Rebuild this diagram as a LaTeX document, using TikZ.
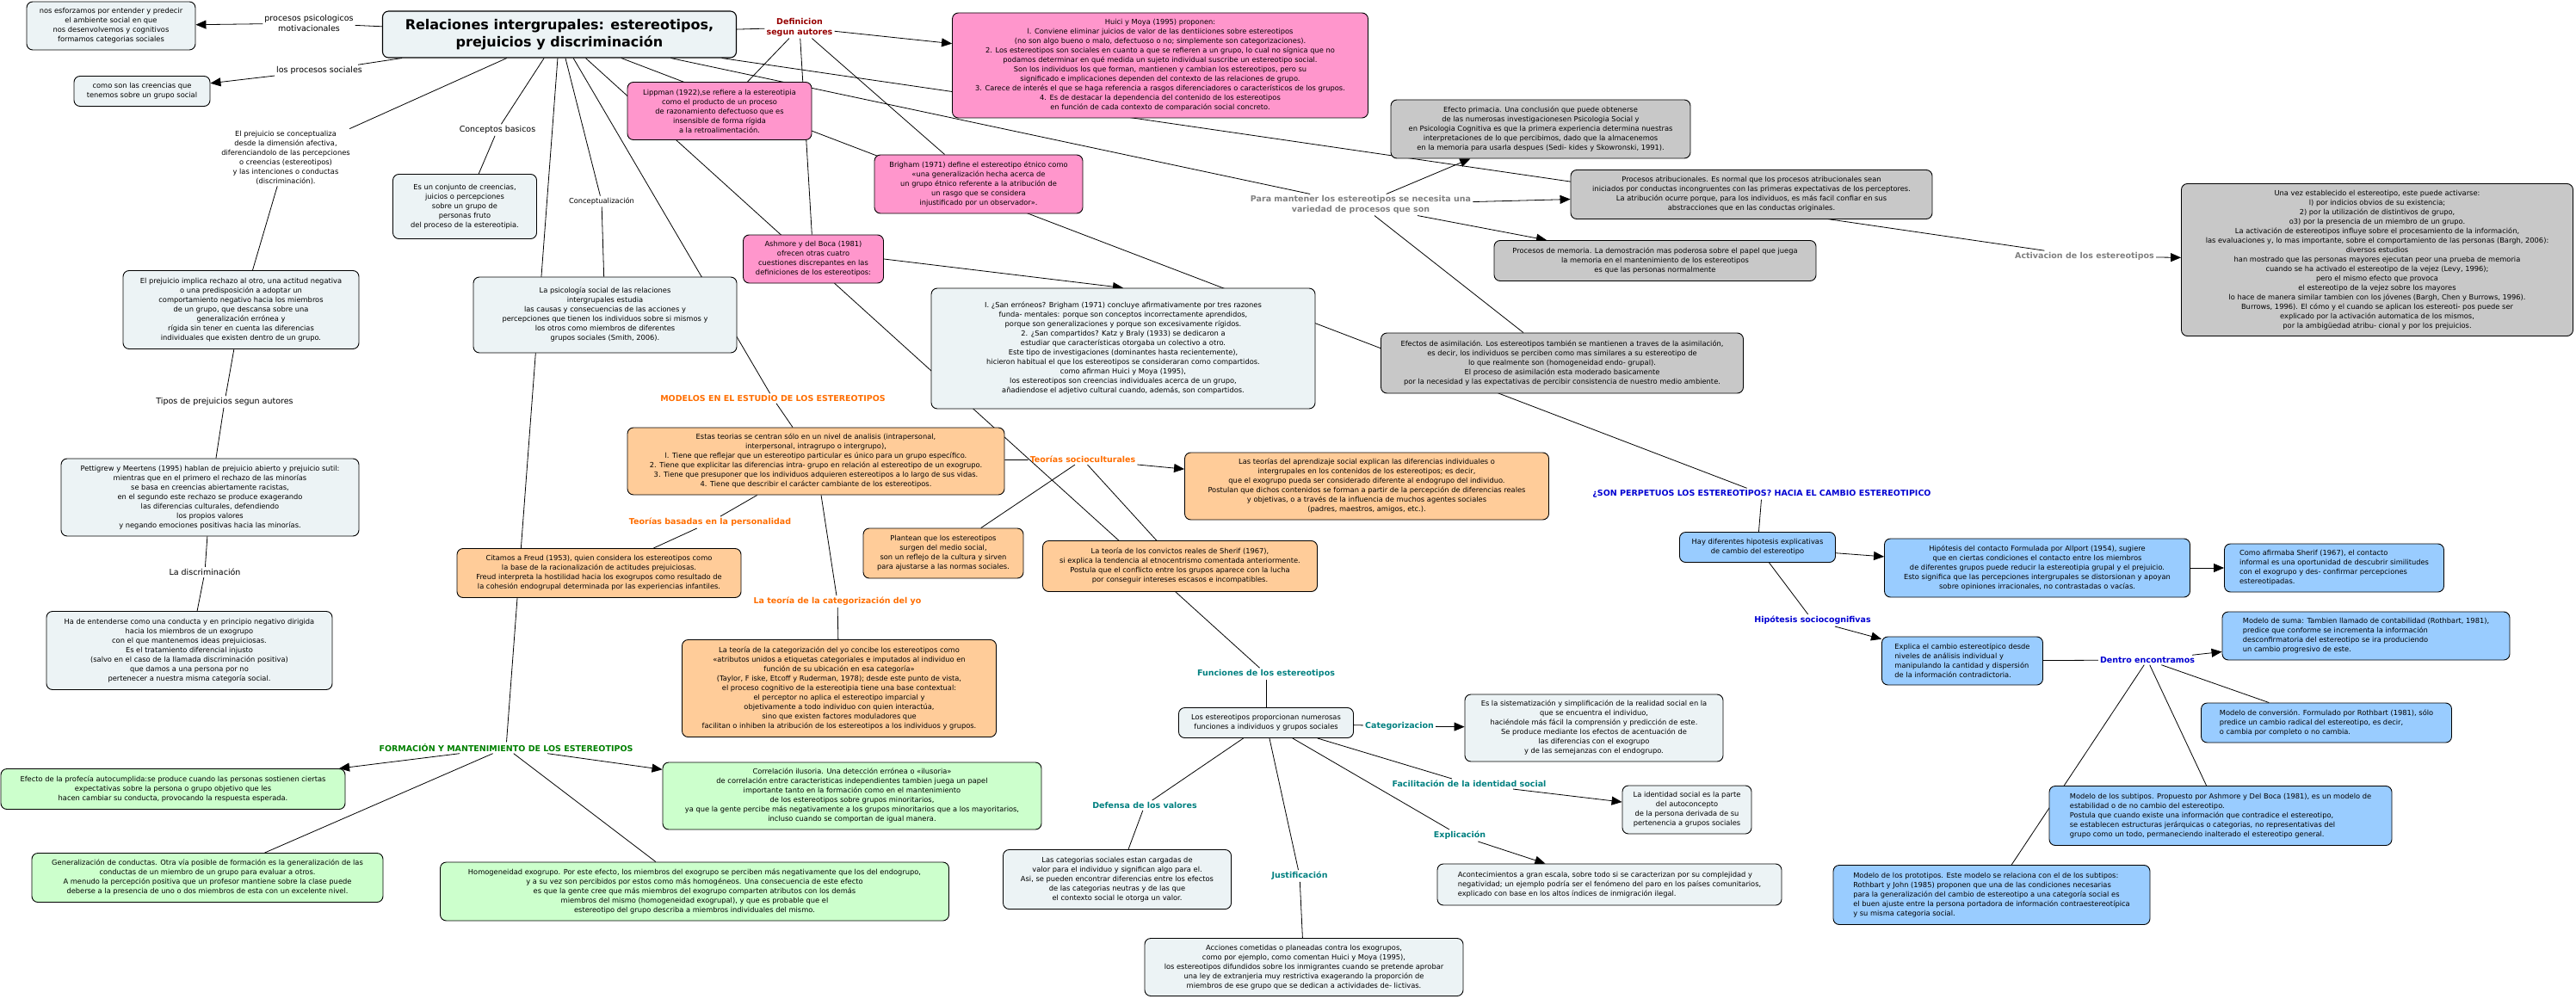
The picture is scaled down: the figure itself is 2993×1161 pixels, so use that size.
\documentclass[tikz,border=0pt]{standalone}
\usepackage{fontspec}
\setsansfont{DejaVu Sans}
\usetikzlibrary{arrows.meta, backgrounds}

\definecolor{basefill}{RGB}{236,243,245}
\definecolor{pinkfill}{RGB}{255,150,204}
\definecolor{grayfill}{RGB}{200,200,200}
\definecolor{orangefill}{RGB}{255,204,153}
\definecolor{greenfill}{RGB}{204,255,204}
\definecolor{bluefill}{RGB}{153,204,255}
\definecolor{defred}{RGB}{150,0,0}
\definecolor{procgray}{RGB}{128,128,128}
\definecolor{modorange}{RGB}{255,110,0}
\definecolor{formgreen}{RGB}{0,128,0}
\definecolor{funteal}{RGB}{0,128,128}
\definecolor{cambioblue}{RGB}{0,0,210}

\begin{document}
\begin{tikzpicture}[
    x=1pt, y=-1pt,
    >={Triangle[length=12pt, width=10pt]},
    font=\sffamily,
    wh/.style 2 args ={minimum width=#1pt, minimum height=#2pt},
    concept/.style   ={draw, rounded corners=7pt, line width=0.9pt, align=center,
                       inner sep=3pt, font=\sffamily\fontsize{8.3}{11}\selectfont},
    basebox/.style   ={concept, fill=basefill},
    titlebox/.style  ={concept, fill=basefill, line width=1.1pt,
                       font=\sffamily\bfseries\fontsize{16}{20}\selectfont},
    pinkbox/.style   ={concept, fill=pinkfill},
    graybox/.style   ={concept, fill=grayfill},
    orangebox/.style ={concept, fill=orangefill},
    greenbox/.style  ={concept, fill=greenfill},
    bluebox/.style   ={concept, fill=bluefill},
    phrase/.style    ={inner sep=2pt, align=center,
                       font=\sffamily\fontsize{9.5}{11.5}\selectfont},
    smallphrase/.style={phrase, font=\sffamily\fontsize{8.3}{11}\selectfont},
    heading/.style   ={inner sep=2pt, align=center,
                       font=\sffamily\bfseries\fontsize{9.5}{11.5}\selectfont},
    link/.style      ={line width=0.8pt},
    linkto/.style    ={link, ->}
]
\useasboundingbox (0,0) rectangle (2993,1161);

% =================== Central concept ===================
\node[titlebox, wh={411}{54}] (titulo) at (650,40)
    {Relaciones intergrupales: estereotipos,\\prejuicios y discriminación};

% =================== Left column: prejuicio / discriminacion ===================
\node[phrase] (psicologicos) at (359,27) {procesos psicologicos\\motivacionales};
\node[basebox, wh={196}{56}] (esforzamos) at (129,30)
    {nos esforzamos por entender y predecir\\el ambiente social en que\\nos desenvolvemos y cognitivos\\formamos categorias sociales};
\node[phrase] (sociales) at (371,82) {los procesos sociales};
\node[basebox, wh={158}{35}] (creencias) at (165,106)
    {como son las creencias que\\tenemos sobre un grupo social};
\node[smallphrase] (conceptualiza) at (332,183)
    {El prejuicio se conceptualiza\\desde la dimensión afectiva,\\diferenciandolo de las percepciones\\o creencias (estereotipos)\\y las intenciones o conductas\\(discriminación).};
\node[basebox, wh={274}{91}] (rechazo) at (280,360)
    {El prejuicio implica rechazo al otro, una actitud negativa\\o una predisposición a adoptar un\\comportamiento negativo hacia los miembros\\de un grupo, que descansa sobre una\\generalización errónea y\\rígida sin tener en cuenta las diferencias\\individuales que existen dentro de un grupo.};
\node[phrase] (tipos) at (261,467) {Tipos de prejuicios segun autores};
\node[basebox, wh={346}{90}] (pettigrew) at (244,578)
    {Pettigrew y Meertens (1995) hablan de prejuicio abierto y prejuicio sutil:\\mientras que en el primero el rechazo de las minorías\\se basa en creencias abiertamente racistas,\\en el segundo este rechazo se produce exagerando\\las diferencias culturales, defendiendo\\los propios valores\\y negando emociones positivas hacia las minorías.};
\node[phrase] (discrimina) at (238,665) {La discriminación};
\node[basebox, wh={332}{91}] (conducta) at (220,756)
    {Ha de entenderse como una conducta y en principio negativo dirigida\\hacia los miembros de un exogrupo\\con el que mantenemos ideas prejuiciosas.\\Es el tratamiento diferencial injusto\\(salvo en el caso de la llamada discriminación positiva)\\que damos a una persona por no\\pertenecer a nuestra misma categoría social.};

% =================== Conceptos basicos ===================
\node[phrase] (basicos) at (578,151) {Conceptos basicos};
\node[basebox, wh={167}{75}] (conjunto) at (540,240)
    {Es un conjunto de creencias,\\juicios o percepciones\\sobre un grupo de\\personas fruto\\del proceso de la estereotipia.};
\node[smallphrase] (conceptualizacion) at (699,234) {Conceptualización};
\node[basebox, wh={306}{88}] (psicosocial) at (703,366)
    {La psicología social de las relaciones\\intergrupales estudia\\las causas y consecuencias de las acciones y\\percepciones que tienen los individuos sobre si mismos y\\los otros como miembros de diferentes\\grupos sociales (Smith, 2006).};

% =================== Definicion segun autores (pink) ===================
\node[heading, text=defred] (definicion) at (929,32) {Definicion\\segun autores};
\node[pinkbox, wh={214}{67}] (lippman) at (836,129)
    {Lippman (1922),se refiere a la estereotipia\\como el producto de un proceso\\de razonamiento defectuoso que es\\insensible de forma rígida\\a la retroalimentación.};
\node[pinkbox, wh={483}{122}] (huici) at (1348,76)
    {Huici y Moya (1995) proponen:\\l. Conviene eliminar juicios de valor de las dentiiciones sobre estereotipos\\(no son algo bueno o malo, defectuoso o no; simplemente son categorizaciones).\\2. Los estereotipos son sociales en cuanto a que se refieren a un grupo, lo cual no sígnica que no\\podamos determinar en qué medida un sujeto individual suscribe un estereotipo social.\\Son los individuos los que forman, mantienen y cambian los estereotipos, pero su\\significado e implicaciones dependen del contexto de las relaciones de grupo.\\3. Carece de interés el que se haga referencia a rasgos diferenciadores o característicos de los grupos.\\4. Es de destacar la dependencia del contenido de los estereotipos\\en función de cada contexto de comparación social concreto.};
\node[pinkbox, wh={242}{68}] (brigham) at (1137,214)
    {Brigham (1971) define el estereotipo étnico como\\«una generalización hecha acerca de\\un grupo étnico referente a la atribución de\\un rasgo que se considera\\injustificado por un observador».};
\node[pinkbox, wh={163}{56}] (ashmore) at (945,301)
    {Ashmore y del Boca (1981)\\ofrecen otras cuatro\\cuestiones discrepantes en las\\definiciones de los estereotipos:};
\node[basebox, wh={446}{140}] (erroneos) at (1305,405)
    {I. ¿San erróneos? Brigham (1971) concluye afirmativamente por tres razones\\funda- mentales: porque son conceptos incorrectamente aprendidos,\\porque son generalizaciones y porque son excesivamente rígidos.\\2. ¿San compartidos? Katz y Braly (1933) se dedicaron a\\estudiar que características otorgaba un colectivo a otro.\\Este tipo de investigaciones (dominantes hasta recientemente),\\hicieron habitual el que los estereotipos se consideraran como compartidos.\\como afirman Huici y Moya (1995),\\los estereotipos son creencias individuales acerca de un grupo,\\añadiendose el adjetivo cultural cuando, además, son compartidos.};

% =================== Mantenimiento (gray) ===================
\node[heading, text=procgray] (mantener) at (1581,238)
    {Para mantener los estereotipos se necesita una\\variedad de procesos que son};
\node[graybox, wh={348}{68}] (primacia) at (1790,150)
    {Efecto primacia. Una conclusión que puede obtenerse\\de las numerosas investigacionesen Psicologia Social y\\en Psicologia Cognitiva es que la primera experiencia determina nuestras\\interpretaciones de lo que percibimos, dado que la almacenemos\\en la memoria para usarla despues (Sedi- kides y Skowronski, 1991).};
\node[graybox, wh={420}{57}] (atribucion) at (2035,226)
    {Procesos atribucionales. Es normal que los procesos atribucionales sean\\iniciados por conductas incongruentes con las primeras expectativas de los perceptores.\\La atribución ocurre porque, para los individuos, es más facil confiar en sus\\abstracciones que en las conductas originales.};
\node[graybox, wh={374}{47}] (memoria) at (1923,303)
    {Procesos de memoria. La demostración mas poderosa sobre el papel que juega\\la memoria en el mantenimiento de los estereotipos\\es que las personas normalmente};
\node[graybox, wh={421}{70}] (asimilacion) at (1815,422)
    {Efectos de asimilación. Los estereotipos también se mantienen a traves de la asimilación,\\es decir, los individuos se perciben como mas similares a su estereotipo de\\lo que realmente son (homogeneidad endo- grupal).\\El proceso de asimilación esta moderado basicamente\\por la necesidad y las expectativas de percibir consistencia de nuestro medio ambiente.};
\node[heading, text=procgray] (activar) at (2422,298) {Activacion de los estereotipos};
\node[graybox, wh={455}{177}] (activacion) at (2762,302)
    {Una vez establecido el estereotipo, este puede activarse:\\l) por indicios obvios de su existencia;\\2) por la utilización de distintivos de grupo,\\o3) por la presencia de un miembro de un grupo.\\La activación de estereotipos influye sobre el procesamiento de la información,\\las evaluaciones y, lo mas importante, sobre el comportamiento de las personas (Bargh, 2006):\\diversos estudios\\han mostrado que las personas mayores ejecutan peor una prueba de memoria\\cuando se ha activado el estereotipo de la vejez (Levy, 1996);\\pero el mismo efecto que provoca\\el estereotipo de la vejez sobre los mayores\\lo hace de manera similar tambien con los jóvenes (Bargh, Chen y Burrows, 1996).\\Burrows, 1996). El cómo y el cuando se aplican los estereoti- pos puede ser\\explicado por la activación automatica de los mismos,\\por la ambigüedad atribu- cional y por los prejuicios.};

% =================== Modelos (orange) ===================
\node[heading, text=modorange] (modelos) at (898,463) {MODELOS EN EL ESTUDIO DE LOS ESTEREOTIPOS};
\node[orangebox, wh={438}{78}] (estasteorias) at (948,536)
    {Estas teorias se centran sólo en un nivel de analisis (intrapersonal,\\interpersonal, intragrupo o intergrupo),\\l. Tiene que reflejar que un estereotipo particular es único para un grupo específico.\\2. Tiene que explicitar las diferencias intra- grupo en relación al estereotipo de un exogrupo.\\3. Tiene que presuponer que los individuos adquieren estereotipos a lo largo de sus vidas.\\4. Tiene que describir el carácter cambiante de los estereotipos.};
\node[heading, text=modorange] (sociocult) at (1258,534) {Teorías socioculturales};
\node[orangebox, wh={423}{78}] (aprendizaje) at (1588,565)
    {Las teorías del aprendizaje social explican las diferencias individuales o\\intergrupales en los contenidos de los estereotipos; es decir,\\que el exogrupo pueda ser considerado diferente al endogrupo del individuo.\\Postulan que dichos contenidos se forman a partir  de la percepción de diferencias reales\\y objetivas, o a través de la influencia de muchos agentes sociales\\(padres, maestros, amigos, etc.).};
\node[orangebox, wh={186}{58}] (plantean) at (1096,643)
    {Plantean que los estereotipos\\surgen del medio social,\\son un reflejo de la cultura y sirven\\para ajustarse a las normas sociales.};
\node[orangebox, wh={319}{59}] (convictos) at (1371,658)
    {La teoría de los convictos reales de Sherif (1967),\\si explica la tendencia al etnocentrismo comentada anteriormente.\\Postula que el conflicto entre los grupos aparece con la lucha\\por conseguir intereses escasos e incompatibles.};
\node[heading, text=modorange] (personalidad) at (825,607) {Teorías basadas en la personalidad};
\node[orangebox, wh={330}{57}] (freud) at (696,666)
    {Citamos a Freud (1953), quien considera los estereotipos como\\la base de la racionalización de actitudes prejuiciosas.\\Freud interpreta la hostilidad hacia los exogrupos como resultado de\\la cohesión endogrupal determinada por las experiencias infantiles.};
\node[heading, text=modorange] (categyo) at (973,699) {La teoría de la categorización del yo};
\node[orangebox, wh={365}{113}] (yo) at (975,800)
    {La teoría de la categorización del yo concibe los estereotipos como\\«atributos unidos a etiquetas categoriales e imputados al individuo en\\función de su ubicación en esa categoría»\\(Taylor, F iske, Etcoff y Ruderman, 1978); desde este punto de vista,\\el proceso cognitivo de la estereotipia tiene una base contextual:\\el perceptor no aplica el estereotipo imparcial y\\objetivamente a todo individuo con quien interactúa,\\sino que existen factores moduladores que\\facilitan o inhiben la atribución de los estereotipos a los individuos y grupos.};

% =================== Formacion y mantenimiento (green) ===================
\node[heading, text=formgreen] (formacion) at (588,869) {FORMACIÓN Y MANTENIMIENTO DE LOS ESTEREOTIPOS};
\node[greenbox, wh={400}{47}] (profecia) at (201,917)
    {Efecto de la profecía autocumplida:se produce cuando las personas sostienen ciertas\\expectativas sobre la persona o grupo objetivo que les\\hacen cambiar su conducta, provocando la respuesta esperada.};
\node[greenbox, wh={440}{78}] (correlacion) at (990,925)
    {Correlación ilusoria. Una detección errónea o «ilusoria»\\de correlación entre caracteristicas independientes tambien juega un papel\\importante tanto en la formación como en el mantenimiento\\de los estereotipos sobre grupos minoritarios,\\ya que la gente percibe más negativamente a los grupos minoritarios que a los mayoritarios,\\incluso cuando se comportan de igual manera.};
\node[greenbox, wh={408}{57}] (generaliza) at (241,1020)
    {Generalización de conductas. Otra vía posible de formación es la generalización de las\\conductas de un miembro de un grupo para evaluar a otros.\\A menudo la percepción positiva que un profesor mantiene sobre la clase puede\\deberse a la presencia de uno o dos miembros de esta con un excelente nivel.};
\node[greenbox, wh={591}{68}] (homogeneidad) at (807,1036)
    {Homogeneidad exogrupo. Por este efecto, los miembros del exogrupo se perciben más negativamente que los del endogrupo,\\y a su vez son percibidos por estos como más homogéneos. Una consecuencia de este efecto\\es que la gente cree que más miembros del exogrupo comparten atributos con los demás\\miembros del mismo (homogeneidad exogrupal), y que es probable que el\\estereotipo del grupo describa a miembros individuales del mismo.};

% =================== Funciones (teal) ===================
\node[heading, text=funteal] (funciones) at (1471,783) {Funciones de los estereotipos};
\node[basebox, wh={203}{35}] (proporcionan) at (1471,840)
    {Los estereotipos proporcionan numerosas\\funciones a individuos y grupos sociales};
\node[heading, text=funteal] (categorizar) at (1626,844) {Categorizacion};
\node[basebox, wh={300}{78}] (sistematiza) at (1852,846)
    {Es la sistematización y simplificación de la realidad social en la\\que se encuentra el individuo,\\haciéndole más fácil la comprensión y predicción de este.\\Se produce mediante los efectos de acentuación de\\las diferencias con el exogrupo\\y de las semejanzas con el endogrupo.};
\node[heading, text=funteal] (facilita) at (1707,911) {Facilitación de la identidad social};
\node[basebox, wh={150}{56}] (identidad) at (1960,941)
    {La identidad social es la parte\\del autoconcepto\\de la persona derivada de su\\pertenencia a grupos sociales};
\node[heading, text=funteal] (explicacion) at (1696,971) {Explicación};
\node[basebox, wh={400}{48}, align=left] (aconteci) at (1870,1028)
    {Acontecimientos a gran escala, sobre todo si se caracterizan por su complejidad y\\negatividad; un ejemplo podría ser el fenómeno del paro en los países comunitarios,\\ explicado con base en los altos índices de inmigración ilegal.};
\node[heading, text=funteal] (defensa) at (1330,936) {Defensa de los valores};
\node[basebox, wh={265}{69}] (cargadas) at (1298,1022)
    {Las categorias sociales estan cargadas de\\valor para el individuo y significan algo para el.\\Asi, se pueden encontrar diferencias entre los efectos\\de las categorias neutras y de las que\\el contexto social le otorga un valor.};
\node[heading, text=funteal] (justifica) at (1510,1018) {Justificación};
\node[basebox, wh={370}{67}] (acciones) at (1515,1124)
    {Acciones cometidas o planeadas contra los exogrupos,\\como por ejemplo, como comentan Huici y Moya (1995),\\los estereotipos difundidos sobre los inmigrantes cuando se pretende aprobar\\una ley de extranjeria muy restrictiva exagerando la proporción de\\miembros de ese grupo que se dedican a actividades de- lictivas.};

% =================== Cambio estereotipico (blue) ===================
\node[heading, text=cambioblue] (perpetuos) at (2047,574)
    {¿SON PERPETUOS LOS ESTEREOTIPOS? HACIA EL CAMBIO ESTEREOTIPICO};
\node[bluebox, wh={181}{35}] (hipotesis) at (2042,636)
    {Hay diferentes hipotesis explicativas\\de cambio del estereotipo};
\node[bluebox, wh={355}{68}] (contacto) at (2367,660)
    {Hipótesis del contacto Formulada por Allport (1954), sugiere\\que en ciertas condiciones el contacto entre los miembros\\de diferentes grupos puede reducir la estereotipia grupal y el prejuicio.\\Esto significa que las percepciones intergrupales se distorsionan y apoyan\\sobre opiniones irracionales, no contrastadas o vacías.};
\node[bluebox, wh={255}{56}, align=left] (sherif) at (2712,660)
    {Como afirmaba Sherif (1967), el contacto\\informal es una oportunidad de descubrir similitudes\\ con el exogrupo y des- confirmar percepciones\\estereotipadas.};
\node[heading, text=cambioblue] (sociocog) at (2106,721) {Hipótesis sociocognifivas};
\node[bluebox, wh={187}{56}, align=left] (explica) at (2280,768)
    {Explica el cambio estereotípico desde\\niveles de análisis individual y\\manipulando la cantidad y dispersión\\de la información contradictoria.};
\node[heading, text=cambioblue] (dentro) at (2495,767) {Dentro encontramos};
\node[bluebox, wh={334}{56}, align=left] (suma) at (2749,739)
    {Modelo de suma: Tambien llamado de contabilidad (Rothbart, 1981),\\predice que conforme se incrementa la información\\ desconfirmatoria del estereotipo se ira produciendo\\un cambio progresivo de este.};
\node[bluebox, wh={291}{46}, align=left] (conversion) at (2703,840)
    {Modelo de conversión. Formulado por Rothbart (1981), sólo\\predice un cambio radical del estereotipo, es decir,\\o cambia por completo o no cambia.};
\node[bluebox, wh={398}{69}, align=left] (subtipos) at (2580,948)
    {Modelo de los subtipos. Propuesto por Ashmore y Del Boca (1981), es un modelo de\\ estabilidad o de no cambio del estereotipo.\\ Postula que cuando existe una información que contradice el estereotipo,\\se establecen estructuras jerárquicas o categorias, no representativas del\\grupo como un todo, permaneciendo inalterado el estereotipo general.};
\node[bluebox, wh={368}{69}, align=left] (prototipos) at (2314,1040)
    {Modelo de los prototipos. Este modelo se relaciona con el de los subtipos:\\ Rothbart y John (1985) proponen que una de las condiciones necesarias\\para la generalización del cambio de estereotipo a una categoría social es\\el buen ajuste entre la persona portadora de información contraestereotípica\\y su misma categoria social.};

% --- Connectors (behind the boxes) ---
\begin{scope}[on background layer]
\fill[white] (0,0) rectangle (2993,1161);

% from the central concept
\draw[link] (titulo) -- (psicologicos);
\draw[link] (titulo) -- (sociales);
\draw[link] (titulo) -- (conceptualiza);
\draw[link] (titulo) -- (basicos);
\draw[link] (titulo) -- (conceptualizacion);
\draw[link] (titulo) -- (formacion);
\draw[link] (titulo) -- (modelos);
\draw[link] (titulo) -- (funciones);
\draw[link] (titulo) -- (perpetuos);
\draw[link] (titulo) -- (mantener);
\draw[link] (titulo) -- (activar);
\draw[link] (titulo) -- (definicion);

% left column
\draw[linkto] (psicologicos) -- (esforzamos);
\draw[linkto] (sociales) -- (creencias);
\draw[link] (conceptualiza) -- (rechazo);
\draw[link] (rechazo) -- (tipos);
\draw[link] (tipos) -- (pettigrew);
\draw[link] (pettigrew) -- (discrimina);
\draw[link] (discrimina) -- (conducta);
\draw[link] (basicos) -- (conjunto);
\draw[link] (conceptualizacion) -- (psicosocial);

% definiciones
\draw[linkto] (definicion) -- (huici);
\draw[link] (definicion) -- (lippman);
\draw[link] (definicion) -- (ashmore);
\draw[link] (definicion) -- (brigham);
\draw[linkto] (ashmore.east) -- (erroneos.north);

% mantenimiento
\draw[linkto] (mantener) -- (primacia);
\draw[linkto] (mantener) -- (atribucion);
\draw[linkto] (mantener) -- (memoria);
\draw[link] (mantener) -- (asimilacion);
\draw[linkto] (activar) -- (activacion);

% modelos
\draw[link] (modelos) -- (estasteorias);
\draw[link] (estasteorias) -- (sociocult);
\draw[linkto] (sociocult) -- (aprendizaje);
\draw[link] (sociocult) -- (plantean);
\draw[link] (sociocult) -- (convictos);
\draw[link] (estasteorias) -- (personalidad);
\draw[link] (personalidad) -- (freud);
\draw[link] (estasteorias) -- (categyo);
\draw[link] (categyo) -- (yo);

% formacion
\draw[linkto] (formacion) -- (profecia);
\draw[link] (formacion) -- (generaliza);
\draw[link] (formacion) -- (homogeneidad);
\draw[linkto] (formacion) -- (correlacion);

% funciones
\draw[link] (funciones) -- (proporcionan);
\draw[link] (proporcionan) -- (categorizar);
\draw[linkto] (categorizar) -- (sistematiza);
\draw[link] (proporcionan) -- (facilita);
\draw[linkto] (facilita) -- (identidad);
\draw[link] (proporcionan) -- (explicacion);
\draw[linkto] (explicacion) -- (aconteci);
\draw[link] (proporcionan) -- (defensa);
\draw[link] (defensa) -- (cargadas);
\draw[link] (proporcionan) -- (justifica);
\draw[link] (justifica) -- (acciones);

% cambio
\draw[link] (perpetuos) -- (hipotesis);
\draw[linkto] (hipotesis) -- (contacto);
\draw[linkto] (contacto) -- (sherif);
\draw[link] (hipotesis) -- (sociocog);
\draw[linkto] (sociocog) -- (explica);
\draw[link] (explica) -- (dentro);
\draw[linkto] (dentro) -- (suma);
\draw[link] (dentro) -- (conversion);
\draw[link] (dentro) -- (subtipos);
\draw[link] (dentro) -- (prototipos);
\end{scope}

\end{tikzpicture}
\end{document}
